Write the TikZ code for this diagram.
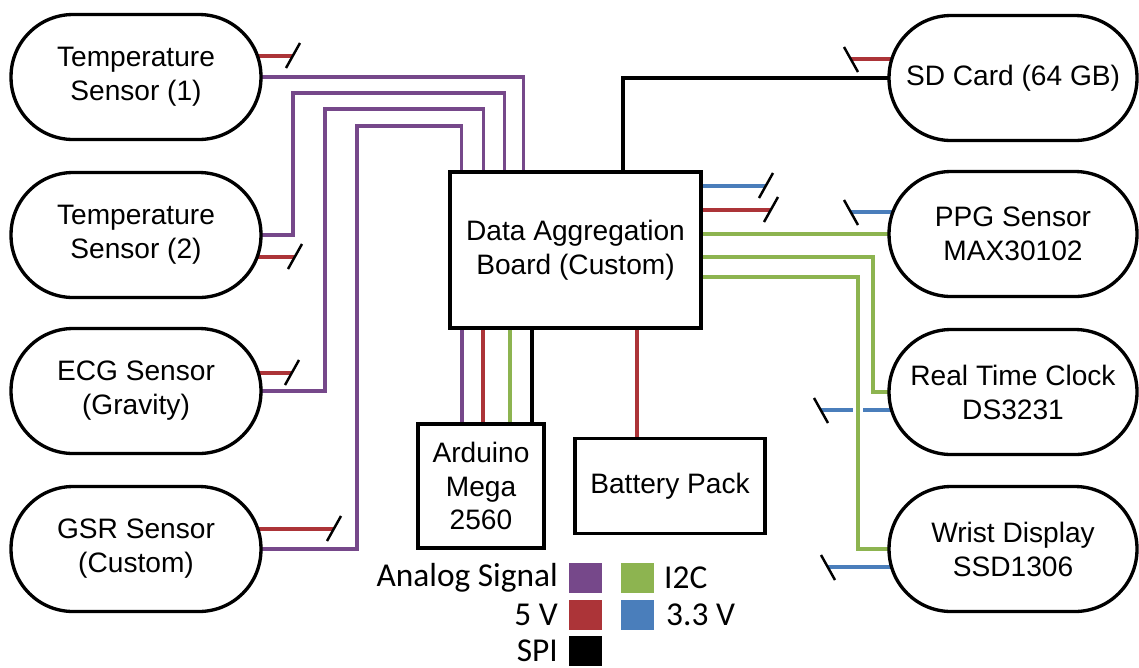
\documentclass[tikz,border=0pt]{standalone}
\usepackage{fontspec}
\setmainfont{Liberation Sans}
\newfontfamily\legendfont{Carlito}
\usepackage{xcolor}
\usepackage{tikz}
\usetikzlibrary{positioning, calc, backgrounds}

\definecolor{analogc}{RGB}{118,72,138}
\definecolor{powerc}{RGB}{172,52,56}
\definecolor{iicc}{RGB}{141,180,80}
\definecolor{lowc}{RGB}{74,126,187}

\begin{document}
\begin{tikzpicture}[
        x=0.02cm, y=-0.02cm,
        sensor/.style={rectangle, rounded corners=1.24cm, draw=black, line width=1.9pt, fill=white, minimum width=5.0cm, minimum height=2.5cm, inner sep=0pt, align=center, font=\fontsize{16}{19.3}\selectfont},
        board/.style={rectangle, draw=black, line width=1.9pt, fill=white, inner sep=0pt, align=center, font=\fontsize{16}{19.3}\selectfont},
        analog/.style={draw=analogc, line width=2pt},
        power/.style={draw=powerc, line width=2pt},
        iic/.style={draw=iicc, line width=2pt},
        low/.style={draw=lowc, line width=2pt},
        spi/.style={draw=black, line width=2pt},
        tick/.style={draw=black, line width=1.4pt},
        gap/.style={preaction={draw=white, line width=6.2pt}},
        swatch/.style={rectangle, minimum width=0.66cm, minimum height=0.6cm, inner sep=0pt},
        lbl/.style={inner sep=0pt, font=\legendfont\fontsize{19}{21}\selectfont},
    ]
        \useasboundingbox (0,0) rectangle (1139,667);

        \node[sensor] (temp1) at (136,77) {Temperature\\Sensor (1)};
        \node[sensor] (temp2) at (136,235) {Temperature\\Sensor (2)};
        \node[sensor] (ecg) at (136,391) {ECG Sensor\\(Gravity)};
        \node[sensor] (gsr) at (136,549) {GSR Sensor\\(Custom)};

        \node[sensor, minimum width=4.96cm] (sd) at (1013,78) {SD Card (64 GB)};
        \node[sensor, minimum width=4.96cm] (ppg) at (1013,234) {PPG Sensor\\MAX30102};
        \node[sensor, minimum width=4.96cm] (rtc) at (1013,392) {Real Time Clock\\DS3231};
        \node[sensor, minimum width=4.96cm] (wrist) at (1013,549) {Wrist Display\\SSD1306};

        \node[board, minimum width=5.02cm, minimum height=3.12cm] (dab) at (575.5,250) {Data Aggregation\\Board (Custom)};
        \node[board, minimum width=2.52cm, minimum height=2.48cm] (ard) at (481,486) {Arduino\\Mega\\2560};
        \node[board, minimum width=3.8cm, minimum height=1.9cm] (bat) at (670,486) {Battery Pack};

        \coordinate (t1cut) at (293,56);
        \coordinate (t2cut) at (295,257);
        \coordinate (ecgcut) at (292,373);
        \coordinate (gsrcut) at (334,529);
        \coordinate (sdcut) at (851,59);
        \coordinate (ppgcut) at (851,212);
        \coordinate (rtccut) at (821,410);
        \coordinate (wristcut) at (828,567);
        \coordinate (dablow) at (766,186);
        \coordinate (dabpow) at (771,210);
        \coordinate (rtcbend) at (873,257);
        \coordinate (wristbend) at (858,277);
        \coordinate (lane1) at (462,0);
        \coordinate (lane2) at (483,0);
        \coordinate (lane3) at (510,0);
        \coordinate (lane4) at (532,0);
        \coordinate (lane5) at (637,0);
        \coordinate (lane6) at (623,0);

        \begin{pgfonlayer}{background}
            \draw[analog] (temp1.center) -| ($(dab.north west)+(75,0)$);
            \draw[analog] (temp2.center) -| (293,93) -| ($(dab.north west)+(56,0)$);
            \draw[analog] (ecg.center) -| (325,109) -| ($(dab.north west)+(35,0)$);
            \draw[analog] (gsr.center) -| (357,126) -| ($(dab.north west)+(13,0)$);

            \draw[power] (temp1.center |- t1cut) -- (t1cut);
            \draw[power] (temp2.center |- t2cut) -- (t2cut);
            \draw[power] (ecg.center |- ecgcut) -- (ecgcut);
            \draw[power] (gsr.center |- gsrcut) -- (gsrcut);

            \draw[analog] (dab.south -| lane1) -- (ard.north -| lane1);
            \draw[power] (dab.south -| lane2) -- (ard.north -| lane2);
            \draw[iic] (dab.south -| lane3) -- (ard.north -| lane3);
            \draw[spi] (dab.south -| lane4) -- (ard.north -| lane4);
            \draw[power] (dab.south -| lane5) -- (bat.north -| lane5);

            \draw[spi] (dab.north -| lane6) |- (sd.center);
            \draw[power] (sd.center |- sdcut) -- (sdcut);

            \draw[low] (dab.center |- dablow) -- (dablow);
            \draw[power] (dab.center |- dabpow) -- (dabpow);
            \draw[low] (ppg.center |- ppgcut) -- (ppgcut);
            \draw[low] (rtc.center |- rtccut) -- (rtccut);
            \draw[low] (wrist.center |- wristcut) -- (wristcut);

            \draw[iic] (dab.center |- ppg.center) -- (ppg.center);
            \draw[iic] (dab.center |- rtcbend) -- (rtcbend) |- (rtc.center);
            \draw[iic, gap] (dab.center |- wristbend) -- (wristbend) |- (wrist.center);
        \end{pgfonlayer}

        \foreach \c in {t1cut, t2cut, ecgcut, gsrcut, dablow, dabpow}
            \draw[tick] (\c) ++(-7,12) -- ++(14,-25);
        \foreach \c in {sdcut, ppgcut, rtccut, wristcut}
            \draw[tick] (\c) ++(-7,-12) -- ++(14,25);

        \node[swatch, fill=analogc] (swanalog) at (585,578) {};
        \node[swatch, fill=iicc] (swiic) at (637,578) {};
        \node[swatch, fill=powerc] (swpower) at (585,615) {};
        \node[swatch, fill=lowc] (swlow) at (637,615) {};
        \node[swatch, fill=black] (swspi) at (585,651) {};

        \node[lbl, left=0.2cm of swanalog] (labanalog) {Analog Signal};
        \node[lbl, right=0.2cm of swiic] (labiic) {I2C};
        \node[lbl, left=0.2cm of swpower] (labpower) {5 V};
        \node[lbl, right=0.24cm of swlow] (lablow) {3.3 V};
        \node[lbl, left=0.2cm of swspi] (labspi) {SPI};
    \end{tikzpicture}
\end{document}
